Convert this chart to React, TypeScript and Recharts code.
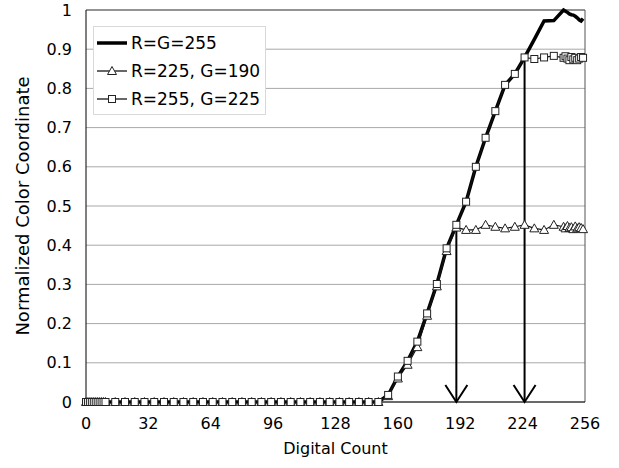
import React from 'react';
import { LineChart, Line, XAxis, YAxis, CartesianGrid, ReferenceLine, Legend } from 'recharts';

const counts = [
  0, 1, 2, 3, 4, 5, 6, 7, 8, 9, 10, 15, 20, 25, 30, 35, 40, 45, 50, 55, 60, 65, 70, 75, 80, 85, 90, 95,
  100, 105, 110, 115, 120, 125, 130, 135, 140, 145, 150, 155, 160, 165, 170, 175, 180, 185, 190, 195,
  200, 205, 210, 215, 220, 225, 230, 235, 240, 245, 246, 247, 248, 249, 250, 251, 252, 253, 254, 255,
];

// R=G=255
const rgMax = [
  0, 0, 0, 0, 0, 0, 0, 0, 0, 0, 0, 0, 0, 0, 0, 0, 0, 0, 0, 0, 0, 0, 0, 0, 0, 0, 0, 0, 0, 0, 0, 0, 0, 0, 0, 0, 0, 0, 0,
  0.018, 0.065, 0.105, 0.154, 0.226, 0.301, 0.392, 0.452, 0.511, 0.6, 0.674, 0.742, 0.809, 0.837, 0.879, 0.925,
  0.972, 0.973, 1.0, 0.997, 0.994, 0.99, 0.988, 0.987, 0.984, 0.98, 0.975, 0.972, 0.978,
];

// R=225, G=190
const r225g190 = [
  0, 0, 0, 0, 0, 0, 0, 0, 0, 0, 0, 0, 0, 0, 0, 0, 0, 0, 0, 0, 0, 0, 0, 0, 0, 0, 0, 0, 0, 0, 0, 0, 0, 0, 0, 0, 0, 0, 0,
  0.015, 0.06, 0.095, 0.14, 0.22, 0.295, 0.385, 0.445, 0.439, 0.439, 0.452, 0.447, 0.443, 0.447, 0.452, 0.443,
  0.439, 0.452, 0.447, 0.443, 0.449, 0.444, 0.446, 0.441, 0.448, 0.443, 0.446, 0.444, 0.441,
];

// R=255, G=225
const r255g225 = [
  0, 0, 0, 0, 0, 0, 0, 0, 0, 0, 0, 0, 0, 0, 0, 0, 0, 0, 0, 0, 0, 0, 0, 0, 0, 0, 0, 0, 0, 0, 0, 0, 0, 0, 0, 0, 0, 0, 0,
  0.018, 0.065, 0.105, 0.154, 0.226, 0.301, 0.392, 0.452, 0.511, 0.6, 0.674, 0.742, 0.809, 0.837, 0.879, 0.875,
  0.879, 0.883, 0.878, 0.882, 0.876, 0.872, 0.88, 0.874, 0.878, 0.872, 0.876, 0.88, 0.878,
];

const seriesNames = ['R=G=255', 'R=225, G=190', 'R=255, G=225'];
const xTicks = [0, 32, 64, 96, 128, 160, 192, 224, 256];
const yTicks = [0, 0.1, 0.2, 0.3, 0.4, 0.5, 0.6, 0.7, 0.8, 0.9, 1];
const arrowCounts = [190, 225];
const arrowTops = [0.452, 0.879];

const data = counts.map((x, i) => ({ x, a: rgMax[i], b: r225g190[i], c: r255g225[i] }));

const FONT = '"DejaVu Sans", Verdana, sans-serif';

function SquareDot(props: any) {
  const { cx, cy } = props;
  if (cx == null || cy == null) return null;
  return <rect x={cx - 3.5} y={cy - 3.5} width={7} height={7} fill="#fff" stroke="#222" strokeWidth={1} />;
}

function TriangleDot(props: any) {
  const { cx, cy } = props;
  if (cx == null || cy == null) return null;
  return (
    <polygon
      points={`${cx},${cy - 4.5} ${cx - 4.5},${cy + 3.5} ${cx + 4.5},${cy + 3.5}`}
      fill="#fff"
      stroke="#222"
      strokeWidth={1}
    />
  );
}

function ArrowShape(props: any) {
  const { x1, y1, y2 } = props;
  const tip = Math.max(y1, y2);
  const top = Math.min(y1, y2);
  return (
    <g>
      <line x1={x1} y1={top} x2={x1} y2={tip} stroke="#000" strokeWidth={2} />
      <polyline
        points={`${x1 - 11},${tip - 17} ${x1},${tip} ${x1 + 11},${tip - 17}`}
        fill="none"
        stroke="#000"
        strokeWidth={2}
      />
    </g>
  );
}

function LegendBox() {
  return (
    <div
      style={{
        width: 168,
        height: 85,
        border: '1px solid #d9d9d9',
        background: '#fff',
        paddingTop: 2,
        paddingLeft: 3,
        boxSizing: 'content-box',
        fontFamily: FONT,
        fontSize: 17,
        color: '#000',
      }}
    >
      {seriesNames.map((name, i) => (
        <div key={name} style={{ height: 28, display: 'flex', alignItems: 'center' }}>
          <svg width={30} height={28} style={{ marginRight: 4 }}>
            <line x1={0} y1={14} x2={30} y2={14} stroke="#000" strokeWidth={i === 0 ? 3.5 : 1.2} />
            {i === 1 && <TriangleDot cx={15} cy={14} />}
            {i === 2 && <SquareDot cx={15} cy={14} />}
          </svg>
          <span style={{ whiteSpace: 'nowrap' }}>{name}</span>
        </div>
      ))}
    </div>
  );
}

function YTitle(props: any) {
  const vb = props.viewBox || {};
  const cy = vb.y + vb.height / 2;
  return (
    <text
      x={29}
      y={cy}
      transform={`rotate(-90, 29, ${cy})`}
      textAnchor="middle"
      fontFamily={FONT}
      fontSize={18}
      fill="#000"
    >
      Normalized Color Coordinate
    </text>
  );
}

function XTitle(props: any) {
  const vb = props.viewBox || {};
  const cx = vb.x + vb.width / 2;
  return (
    <text x={cx} y={454} textAnchor="middle" fontFamily={FONT} fontSize={16} fill="#000">
      Digital Count
    </text>
  );
}

export default function App() {
  return (
    <div style={{ position: 'absolute', left: 0, top: 0, background: '#fff' }}>
      <LineChart width={619} height={468} data={data} margin={{ top: 10, right: 34, bottom: 0, left: 0 }}>
        <CartesianGrid vertical={false} stroke="#a8a8a8" />
        <XAxis
          dataKey="x"
          type="number"
          domain={[0, 256]}
          ticks={xTicks}
          tickLine={false}
          tickMargin={10}
          height={66}
          axisLine={{ stroke: '#000' }}
          tick={{ fill: '#000', fontSize: 16, fontFamily: FONT }}
          label={<XTitle />}
        />
        <YAxis
          type="number"
          domain={[0, 1]}
          ticks={yTicks}
          width={86}
          tickLine={false}
          tickMargin={8}
          axisLine={{ stroke: '#000' }}
          tick={{ fill: '#000', fontSize: 16, fontFamily: FONT }}
          label={<YTitle />}
        />
        <ReferenceLine y={1} stroke="#555" />
        <ReferenceLine x={256} stroke="#555" />
        {arrowCounts.map((c, i) => (
          <ReferenceLine
            key={c}
            segment={[
              { x: c, y: arrowTops[i] },
              { x: c, y: 0 },
            ]}
            shape={ArrowShape}
          />
        ))}
        <Legend
          layout="vertical"
          align="center"
          verticalAlign="middle"
          wrapperStyle={{ left: 93, top: 26, width: 'auto' }}
          content={() => <LegendBox />}
        />
        <Line
          dataKey="a"
          name={seriesNames[0]}
          stroke="#000"
          strokeWidth={3.5}
          dot={false}
          activeDot={false}
          isAnimationActive={false}
        />
        <Line
          dataKey="b"
          name={seriesNames[1]}
          stroke="#111"
          strokeWidth={1.2}
          dot={<TriangleDot />}
          activeDot={false}
          isAnimationActive={false}
        />
        <Line
          dataKey="c"
          name={seriesNames[2]}
          stroke="#111"
          strokeWidth={1.2}
          dot={<SquareDot />}
          activeDot={false}
          isAnimationActive={false}
        />
      </LineChart>
    </div>
  );
}
